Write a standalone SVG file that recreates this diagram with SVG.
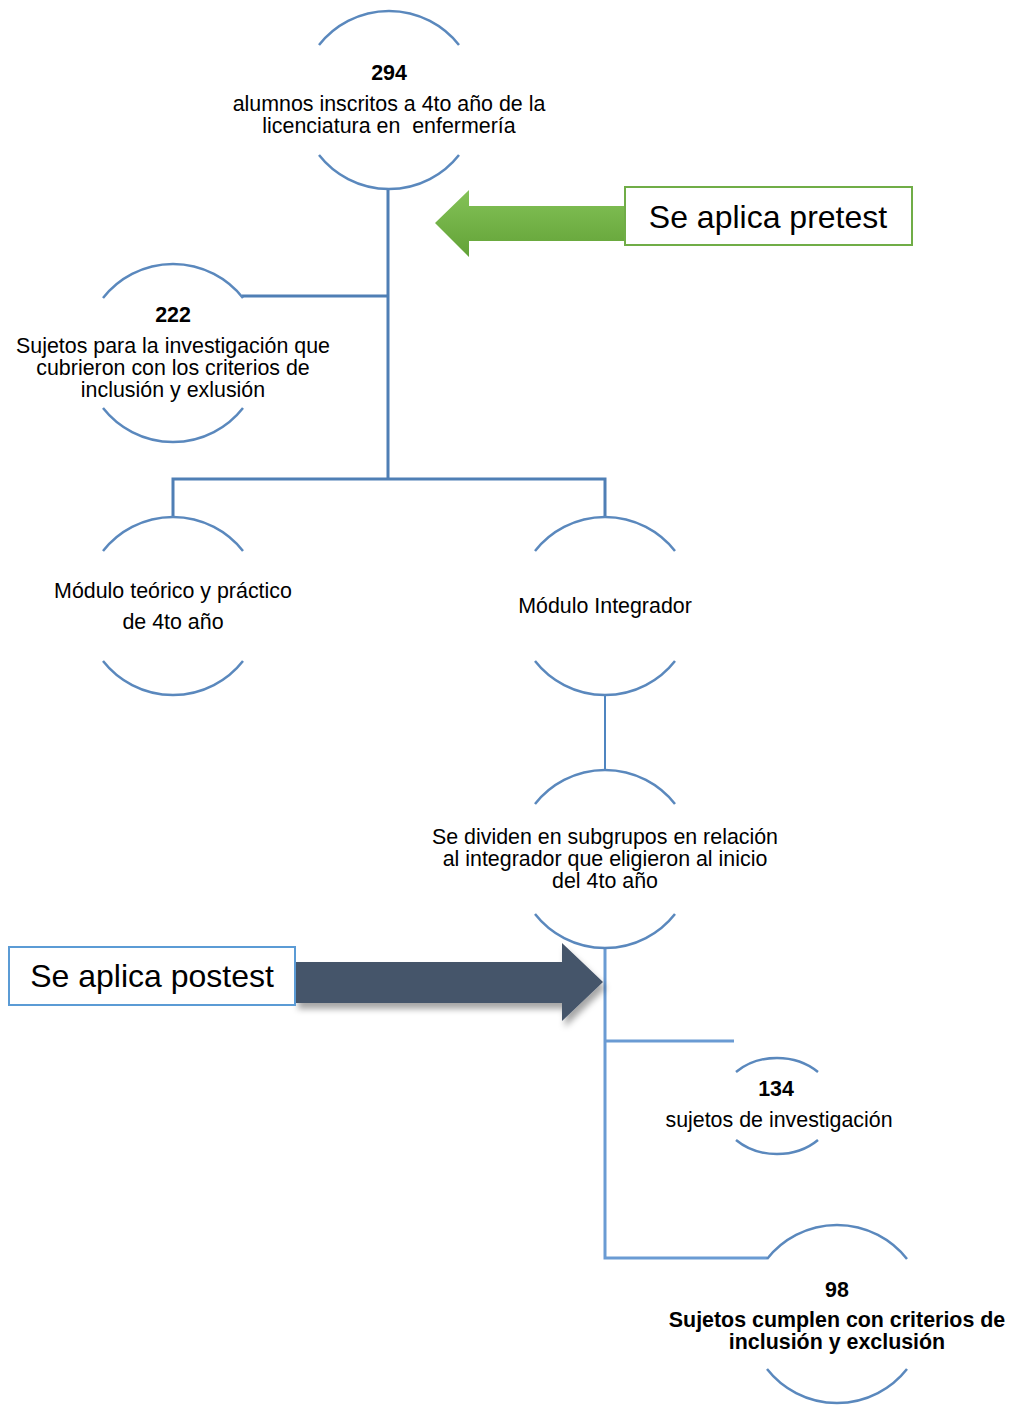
<svg xmlns="http://www.w3.org/2000/svg" width="1011" height="1406" viewBox="0 0 1011 1406">
<style>
.arc{fill:none;stroke:#5a88bd;stroke-width:2.5}
.t{font-family:"Liberation Sans",Arial,sans-serif;font-size:21.4px;fill:#000;text-anchor:middle;white-space:pre}
.b{font-weight:bold}
.big{font-family:"Liberation Sans",Arial,sans-serif;font-size:32px;fill:#000;text-anchor:middle}
.c1{fill:none;stroke:#4f7fb5;stroke-width:3}
.c2{fill:none;stroke:#6a9bd3;stroke-width:3}
.c3{fill:none;stroke:#4f85c0;stroke-width:2}
</style>
<defs>
<linearGradient id="gGreen" x1="0" y1="0" x2="0" y2="1">
<stop offset="0" stop-color="#84c257"/>
<stop offset="1" stop-color="#62a237"/>
</linearGradient>
<filter id="shadow" x="-10%" y="-20%" width="130%" height="160%">
<feDropShadow dx="3" dy="6" stdDeviation="3" flood-color="#000" flood-opacity="0.35"/>
</filter>
</defs>
<rect width="1011" height="1406" fill="#fff"/>

<g id="connectors">
<path class="c1" d="M388 190 V480"/>
<path class="c1" d="M242 296 H388"/>
<path class="c1" d="M173 516 V479 H605 V516"/>
<path class="c3" d="M605 696 V770"/>
<path class="c2" d="M605 948 V1258 H767"/>
<path class="c2" d="M605 1041 H734"/>
</g>

<g id="node-294">
<path class="arc" d="M319 45 A89 89 0 0 1 459 45"/>
<path class="arc" d="M319 155 A89 89 0 0 0 459 155"/>
<text class="t b" x="389" y="80">294</text>
<text class="t" x="389" y="111">alumnos inscritos a 4to año de la</text>
<text class="t" x="389" y="133" xml:space="preserve">licenciatura en  enfermería</text>
</g>

<g id="node-222">
<path class="arc" d="M103 298 A89 89 0 0 1 243 298"/>
<path class="arc" d="M103 408 A89 89 0 0 0 243 408"/>
<text class="t b" x="173" y="322">222</text>
<text class="t" x="173" y="353">Sujetos para la investigación que</text>
<text class="t" x="173" y="375">cubrieron con los criterios de</text>
<text class="t" x="173" y="397">inclusión y exlusión</text>
</g>

<g id="node-modulo-teorico">
<path class="arc" d="M103 551 A89 89 0 0 1 243 551"/>
<path class="arc" d="M103 661 A89 89 0 0 0 243 661"/>
<text class="t" x="173" y="598">Módulo teórico y práctico</text>
<text class="t" x="173" y="629">de 4to año</text>
</g>

<g id="node-modulo-integrador">
<path class="arc" d="M535 551 A89 89 0 0 1 675 551"/>
<path class="arc" d="M535 661 A89 89 0 0 0 675 661"/>
<text class="t" x="605" y="613">Módulo Integrador</text>
</g>

<g id="node-subgrupos">
<path class="arc" d="M535 804 A89 89 0 0 1 675 804"/>
<path class="arc" d="M535 914 A89 89 0 0 0 675 914"/>
<text class="t" x="605" y="844">Se dividen en subgrupos en relación</text>
<text class="t" x="605" y="866">al integrador que eligieron al inicio</text>
<text class="t" x="605" y="888">del 4to año</text>
</g>

<g id="node-134">
<path class="arc" d="M736 1072 A58 48 0 0 1 818 1072"/>
<path class="arc" d="M736 1140 A58 48 0 0 0 818 1140"/>
<text class="t b" x="776" y="1096">134</text>
<text class="t" x="779" y="1127">sujetos de investigación</text>
</g>

<g id="node-98">
<path class="arc" d="M767 1259 A89 89 0 0 1 907 1259"/>
<path class="arc" d="M767 1369 A89 89 0 0 0 907 1369"/>
<text class="t b" x="837" y="1297">98</text>
<text class="t b" x="837" y="1327">Sujetos cumplen con criterios de</text>
<text class="t b" x="837" y="1349">inclusión y exclusión</text>
</g>

<g id="pretest">
<polygon fill="url(#gGreen)" points="435,223 469,190 469,206 626,206 626,241 469,241 469,257"/>
<rect x="625" y="187" width="287" height="58" fill="#fff" stroke="#70ad47" stroke-width="2"/>
<text class="big" x="768" y="228">Se aplica pretest</text>
</g>

<g id="postest">
<polygon fill="#44546a" filter="url(#shadow)" points="295,962 562,962 562,943 603,982 562,1021 562,1003 295,1003"/>
<rect x="9" y="947" width="286" height="58" fill="#fff" stroke="#5b9bd5" stroke-width="2"/>
<text class="big" x="152" y="987">Se aplica postest</text>
</g>
</svg>
